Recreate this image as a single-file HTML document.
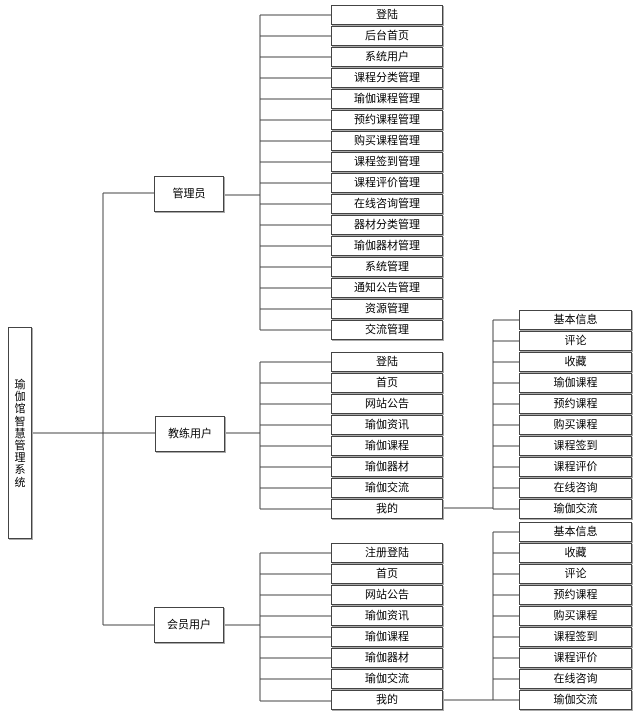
<!DOCTYPE html>
<html><head><meta charset="utf-8">
<style>
html,body{margin:0;padding:0;background:#fff;}
#c{position:relative;width:641px;height:717px;overflow:hidden;font-family:"Liberation Sans","Noto Sans CJK SC","WenQuanYi Zen Hei",sans-serif;font-size:11px;color:#000;}
.b{position:absolute;box-sizing:border-box;width:112px;height:20px;border:1px solid #444;box-shadow:1px 1px 0 #aaa;background:#fff;text-align:center;line-height:18px;white-space:nowrap;}
.n{position:absolute;box-sizing:border-box;width:70px;height:36px;border:1px solid #444;box-shadow:1px 1px 0 #aaa;background:#fff;text-align:center;line-height:34px;}
svg{position:absolute;left:0;top:0;}
</style></head><body><div id="c">
<svg width="641" height="717" stroke="#444" stroke-width="1" fill="none" shape-rendering="crispEdges">
<path d="M32 433H103M103 193V625M103 193H155M103 433H155M103 625H155"/>
<path d="M224 195H260M260 15V330"/>
<path d="M260 15H331M260 36H331M260 57H331M260 78H331M260 99H331M260 120H331M260 141H331M260 162H331M260 183H331M260 204H331M260 225H331M260 246H331M260 267H331M260 288H331M260 309H331M260 330H331"/>
<path d="M224 433H260M260 362V509M260 362H331M260 383H331M260 404H331M260 425H331M260 446H331M260 467H331M260 488H331M260 509H331"/>
<path d="M443 508H493M493 320V509M493 320H519M493 341H519M493 362H519M493 383H519M493 404H519M493 425H519M493 446H519M493 467H519M493 488H519M493 509H519"/>
<path d="M224 625H260M260 553V701M260 553H331M260 574H331M260 595H331M260 616H331M260 637H331M260 658H331M260 679H331M260 701H331"/>
<path d="M443 700H493M493 532V700M493 532H519M493 553H519M493 574H519M493 595H519M493 616H519M493 637H519M493 658H519M493 679H519M493 700H519"/>
</svg>
<div style="position:absolute;left:8px;top:327px;width:24px;height:212px;box-sizing:border-box;border:1px solid #444;box-shadow:1px 1px 0 #aaa;background:#fff;font-size:11px;line-height:12.2px;text-align:center;padding-top:51px;">瑜<br>伽<br>馆<br>智<br>慧<br>管<br>理<br>系<br>统</div>
<div class="n" style="left:154px;top:176px;">管理员</div>
<div class="n" style="left:155px;top:416px;">教练用户</div>
<div class="n" style="left:154px;top:607px;">会员用户</div>

<div class="b" style="left:331px;top:5px">登陆</div>
<div class="b" style="left:331px;top:26px">后台首页</div>
<div class="b" style="left:331px;top:47px">系统用户</div>
<div class="b" style="left:331px;top:68px">课程分类管理</div>
<div class="b" style="left:331px;top:89px">瑜伽课程管理</div>
<div class="b" style="left:331px;top:110px">预约课程管理</div>
<div class="b" style="left:331px;top:131px">购买课程管理</div>
<div class="b" style="left:331px;top:152px">课程签到管理</div>
<div class="b" style="left:331px;top:173px">课程评价管理</div>
<div class="b" style="left:331px;top:194px">在线咨询管理</div>
<div class="b" style="left:331px;top:215px">器材分类管理</div>
<div class="b" style="left:331px;top:236px">瑜伽器材管理</div>
<div class="b" style="left:331px;top:257px">系统管理</div>
<div class="b" style="left:331px;top:278px">通知公告管理</div>
<div class="b" style="left:331px;top:299px">资源管理</div>
<div class="b" style="left:331px;top:320px">交流管理</div>

<div class="b" style="left:331px;top:352px">登陆</div>
<div class="b" style="left:331px;top:373px">首页</div>
<div class="b" style="left:331px;top:394px">网站公告</div>
<div class="b" style="left:331px;top:415px">瑜伽资讯</div>
<div class="b" style="left:331px;top:436px">瑜伽课程</div>
<div class="b" style="left:331px;top:457px">瑜伽器材</div>
<div class="b" style="left:331px;top:478px">瑜伽交流</div>
<div class="b" style="left:331px;top:499px">我的</div>

<div class="b" style="left:519px;top:310px;width:113px">基本信息</div>
<div class="b" style="left:519px;top:331px;width:113px">评论</div>
<div class="b" style="left:519px;top:352px;width:113px">收藏</div>
<div class="b" style="left:519px;top:373px;width:113px">瑜伽课程</div>
<div class="b" style="left:519px;top:394px;width:113px">预约课程</div>
<div class="b" style="left:519px;top:415px;width:113px">购买课程</div>
<div class="b" style="left:519px;top:436px;width:113px">课程签到</div>
<div class="b" style="left:519px;top:457px;width:113px">课程评价</div>
<div class="b" style="left:519px;top:478px;width:113px">在线咨询</div>
<div class="b" style="left:519px;top:499px;width:113px">瑜伽交流</div>

<div class="b" style="left:331px;top:543px">注册登陆</div>
<div class="b" style="left:331px;top:564px">首页</div>
<div class="b" style="left:331px;top:585px">网站公告</div>
<div class="b" style="left:331px;top:606px">瑜伽资讯</div>
<div class="b" style="left:331px;top:627px">瑜伽课程</div>
<div class="b" style="left:331px;top:648px">瑜伽器材</div>
<div class="b" style="left:331px;top:669px">瑜伽交流</div>
<div class="b" style="left:331px;top:690px">我的</div>

<div class="b" style="left:519px;top:522px;width:113px">基本信息</div>
<div class="b" style="left:519px;top:543px;width:113px">收藏</div>
<div class="b" style="left:519px;top:564px;width:113px">评论</div>
<div class="b" style="left:519px;top:585px;width:113px">预约课程</div>
<div class="b" style="left:519px;top:606px;width:113px">购买课程</div>
<div class="b" style="left:519px;top:627px;width:113px">课程签到</div>
<div class="b" style="left:519px;top:648px;width:113px">课程评价</div>
<div class="b" style="left:519px;top:669px;width:113px">在线咨询</div>
<div class="b" style="left:519px;top:690px;width:113px">瑜伽交流</div>
</div></body></html>
